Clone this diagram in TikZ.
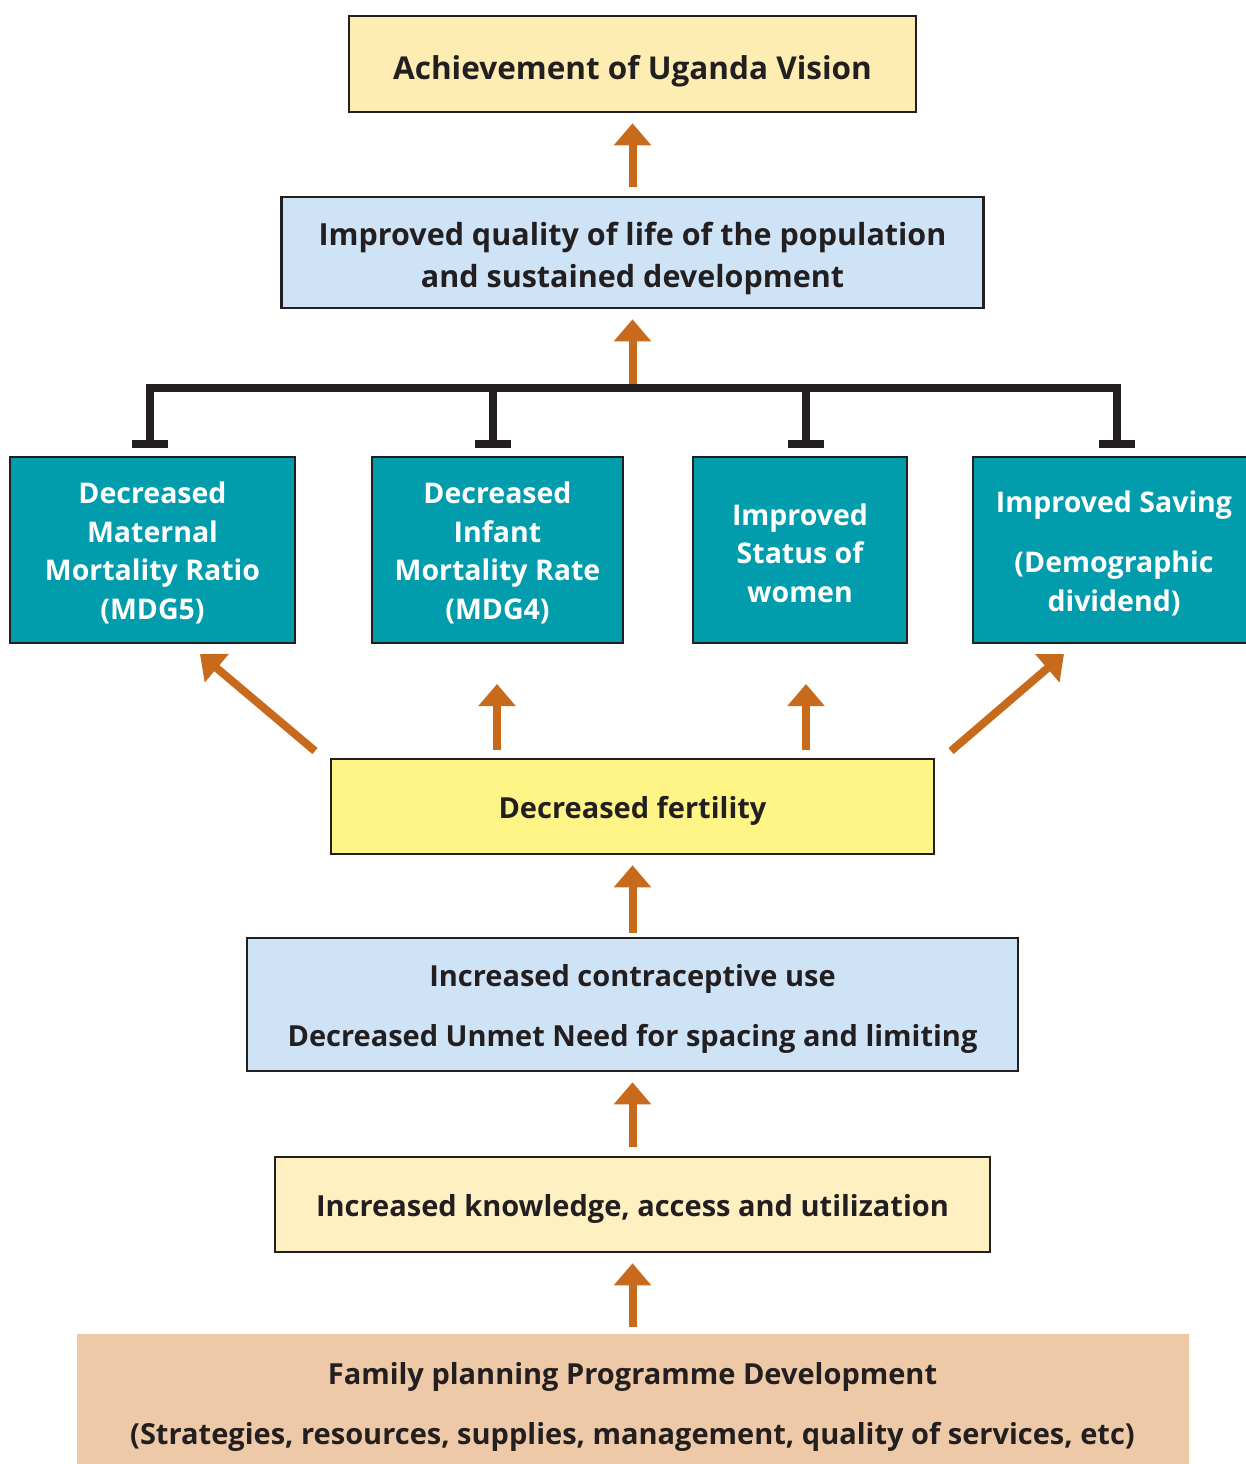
\documentclass[tikz,border=0pt]{standalone}
\usepackage{fontspec}
\setmainfont{Open Sans}
\usetikzlibrary{arrows.meta,calc}
\definecolor{ink}{HTML}{231F20}
\definecolor{cream}{HTML}{FDEDB3}
\definecolor{cream2}{HTML}{FFF0C2}
\definecolor{lblue}{HTML}{CFE3F6}
\definecolor{teal2}{HTML}{029DAC}
\definecolor{fyellow}{HTML}{FFF486}
\definecolor{peach}{HTML}{EDC9A8}
\definecolor{orng}{HTML}{C86A1C}
\tikzset{
  box/.style={draw=ink, line width=2.5pt, rectangle, inner sep=0pt},
  tbox/.style={box, fill=teal2},
  txt/.style={align=center, text=ink, yshift=-4pt, font=\fontsize{29}{42}\selectfont\bfseries},
  wtxt/.style={align=center, text=white, yshift=-3pt, font=\fontsize{28.5}{38.5}\selectfont\bfseries},
  arr/.style={draw=orng, line width=8pt, -{Triangle[width=36pt,length=22pt]}},
  brk/.style={draw=ink, line width=8pt, line join=miter},
}
\begin{document}
\begin{tikzpicture}[x=1pt,y=-1pt]
\useasboundingbox (0,0) rectangle (1246,1464);
% boxes
\node[box, fill=cream, minimum width=567pt, minimum height=96pt,
  label={[txt, yshift=-3pt, font=\fontsize{31.5}{42}\selectfont\bfseries]center:{Achievement of Uganda Vision}}] (vis) at (632.5,64) {};
\node[box, fill=lblue, minimum width=702pt, minimum height=111pt,
  label={[txt, yshift=-2pt, font=\fontsize{30.5}{42}\selectfont\bfseries]center:{Improved quality of life of the population\\and sustained development}}] (qol) at (632.5,252.5) {};
\node[tbox, minimum width=285pt, minimum height=186pt,
  label={[wtxt]center:{Decreased\\Maternal\\Mortality Ratio\\(MDG5)}}] (mmr) at (152.5,550) {};
\node[tbox, minimum width=251pt, minimum height=186pt,
  label={[wtxt]center:{Decreased\\Infant\\Mortality Rate\\(MDG4)}}] (imr) at (497.5,550) {};
\node[tbox, minimum width=214pt, minimum height=186pt,
  label={[wtxt]center:{Improved\\Status of\\women}}] (sow) at (800,550) {};
\node[tbox, minimum width=276pt, minimum height=186pt,
  label={[wtxt, xshift=3pt]center:{Improved Saving\\[22pt](Demographic\\dividend)}}] (sav) at (1111,550) {};
\node[box, fill=fyellow, minimum width=603pt, minimum height=95pt,
  label={[txt]center:{Decreased fertility}}] (fer) at (632.5,806.5) {};
\node[box, fill=lblue, minimum width=771pt, minimum height=133pt,
  label={[txt]center:{Increased contraceptive use\\[18pt]Decreased Unmet Need for spacing and limiting}}] (con) at (632.5,1004.5) {};
\node[box, fill=cream2, minimum width=715pt, minimum height=95pt,
  label={[txt]center:{Increased knowledge, access and utilization}}] (kno) at (632.5,1204.5) {};
\node[box, draw=none, fill=peach, minimum width=1112pt, minimum height=140pt, anchor=north,
  label={[txt, yshift=1pt]center:{Family planning Programme Development\\[18pt](Strategies, resources, supplies, management, quality of services, etc)}}] (fpp) at (632.5,1333) {};
% vertical arrows
\draw[arr, shorten <=9pt, shorten >=10pt] (qol.north) -- (vis.south);
\coordinate (bk) at (632.5,388);
\draw[arr, shorten >=10pt] (bk) -- (qol.south);
\draw[arr, shorten <=4pt, shorten >=10pt] (con.north) -- (fer.south);
\draw[arr, shorten <=9pt, shorten >=10pt] (kno.north) -- (con.south);
\draw[arr, shorten <=6pt, shorten >=10pt] (fpp.north) -- (kno.south);
% arrows from fertility
\coordinate (f1) at (315,751); \coordinate (t1) at (200,654);
\coordinate (f2) at (497,750); \coordinate (t2) at (497,684);
\coordinate (f3) at (806,750); \coordinate (t3) at (806,684);
\coordinate (f4) at (951,751); \coordinate (t4) at (1064,654);
\draw[arr] (f1) -- (t1);
\draw[arr] (f2) -- (t2);
\draw[arr] (f3) -- (t3);
\draw[arr] (f4) -- (t4);
% bracket
\coordinate (b1) at (150,444); \coordinate (b2) at (493,444);
\coordinate (b3) at (806,444); \coordinate (b4) at (1117,444);
\draw[brk] (b1) -- (150,388) -- (1117,388) -- (b4);
\draw[brk] (b2) -- (493,388);
\draw[brk] (b3) -- (806,388);
\foreach \p in {b1,b2,b3,b4} \draw[brk] ($(\p)+(-18,0)$) -- ($(\p)+(18,0)$);
\end{tikzpicture}
\end{document}
